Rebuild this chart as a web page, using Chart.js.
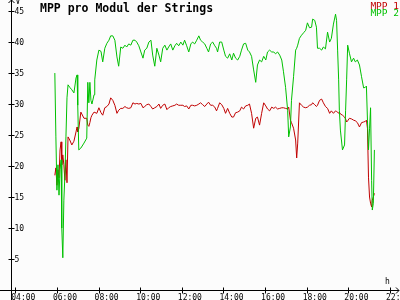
<!DOCTYPE html>
<html>
<head>
<meta charset="utf-8">
<script src="https://cdn.jsdelivr.net/npm/chart.js@4.4.1/dist/chart.umd.min.js"></script>
<style>
  html, body { margin: 0; padding: 0; background: #fcfcfc; }
  #wrap { width: 400px; height: 300px; }
</style>
</head>
<body>
<div id="wrap"><canvas id="myChart" width="400" height="300"></canvas></div>
<script>
// Sample times of the day
const times = [
  '05:54', '05:57', '06:00', '06:03', '06:06', '06:09', '06:12', '06:14', '06:17', '06:20',
  '06:23', '06:26', '06:29', '06:32', '06:37', '06:43', '06:49', '06:55', '06:58', '07:00',
  '07:03', '07:09', '07:18', '07:26', '07:29', '07:32', '07:35', '07:38', '07:41', '07:47',
  '07:49', '07:55', '08:01', '08:07', '08:12', '08:18', '08:24', '08:30', '08:35', '08:41',
  '08:47', '08:53', '08:58', '09:04', '09:10', '09:16', '09:21', '09:27', '09:33', '09:39',
  '09:45', '09:50', '09:56', '10:02', '10:08', '10:13', '10:19', '10:25', '10:31', '10:36',
  '10:42', '10:48', '10:54', '10:59', '11:05', '11:11', '11:17', '11:22', '11:28', '11:34',
  '11:40', '11:45', '11:51', '11:57', '12:03', '12:08', '12:14', '12:20', '12:26', '12:31',
  '12:37', '12:43', '12:49', '12:54', '13:00', '13:06', '13:12', '13:17', '13:23', '13:29',
  '13:35', '13:40', '13:43', '13:49', '13:55', '14:01', '14:06', '14:12', '14:18', '14:24',
  '14:29', '14:35', '14:41', '14:47', '14:52', '14:58', '15:04', '15:10', '15:15', '15:21',
  '15:27', '15:33', '15:38', '15:44', '15:50', '15:56', '16:02', '16:07', '16:13', '16:19',
  '16:25', '16:30', '16:36', '16:42', '16:48', '16:53', '16:59', '17:05', '17:08', '17:13',
  '17:16', '17:22', '17:28', '17:31', '17:34', '17:39', '17:45', '17:51', '17:57', '18:02',
  '18:08', '18:14', '18:17', '18:23', '18:28', '18:31', '18:37', '18:43', '18:48', '18:54',
  '19:00', '19:06', '19:11', '19:17', '19:23', '19:26', '19:29', '19:32', '19:34', '19:37',
  '19:43', '19:49', '19:52', '19:55', '19:58', '20:03', '20:09', '20:15', '20:20', '20:26',
  '20:32', '20:38', '20:44', '20:49', '20:52', '20:55', '20:58', '21:01', '21:04', '21:07',
  '21:09', '21:12', '21:15'
];

// MPP 1 (red), volts
const mpp1 = [
  18.5, 19.7, 16.9, 19.4, 18.1, 22.6, 23.9, 20.2, 21.8, 20.2,
  17.7, 21.0, 17.3, 24.7, 24.2, 23.4, 24.0, 25.5, 26.3, 25.5,
  26.0, 28.7, 27.7, 27.7, 26.6, 26.4, 27.0, 27.8, 28.2, 28.7,
  28.7, 28.5, 29.4, 28.6, 28.2, 29.4, 29.6, 30.0, 31.0, 30.6,
  29.8, 28.5, 29.0, 29.3, 29.3, 29.6, 29.4, 29.3, 29.4, 30.2,
  30.0, 30.1, 30.0, 30.1, 29.4, 29.6, 29.9, 30.0, 29.6, 29.2,
  29.4, 29.6, 30.0, 29.3, 29.8, 30.0, 29.1, 29.4, 29.6, 29.7,
  29.8, 30.0, 29.8, 29.8, 29.8, 29.6, 29.7, 29.2, 29.8, 29.8,
  29.7, 29.8, 30.0, 30.2, 29.9, 29.6, 30.0, 30.3, 29.8, 29.8,
  29.5, 28.9, 29.3, 30.2, 29.9, 29.3, 28.5, 29.3, 28.5, 27.9,
  27.9, 28.6, 28.7, 28.9, 29.5, 29.2, 29.7, 29.8, 30.0, 28.5,
  26.1, 27.7, 27.9, 26.6, 28.5, 30.2, 29.7, 29.2, 28.9, 29.5,
  29.3, 29.5, 29.2, 29.3, 29.4, 29.4, 29.3, 29.2, 29.5, 27.4,
  27.0, 26.1, 24.2, 21.3, 23.7, 30.2, 29.8, 29.5, 29.4, 29.5,
  29.8, 29.9, 30.2, 29.9, 29.6, 29.8, 30.6, 30.8, 30.2, 29.6,
  29.3, 28.5, 28.9, 28.5, 28.9, 28.8, 28.7, 28.5, 28.7, 28.4,
  28.2, 27.9, 27.6, 27.1, 27.3, 27.7, 27.6, 27.4, 27.3, 27.0,
  26.3, 27.0, 27.1, 27.2, 27.4, 26.1, 18.2, 15.0, 14.0, 13.4,
  14.5, 15.0, 15.6
];

// MPP 2 (green), volts
const mpp2 = [
  35.0, 24.7, 16.1, 20.2, 15.3, 19.4, 21.0, 10.0, 5.2, 14.5,
  18.5, 24.7, 31.0, 33.1, 32.7, 32.3, 31.8, 34.2, 34.7, 29.8,
  22.6, 22.9, 23.7, 24.5, 33.5, 30.2, 33.5, 30.6, 30.0, 31.5,
  33.9, 37.1, 38.7, 38.5, 36.8, 39.0, 39.8, 40.3, 41.0, 41.0,
  40.3, 37.6, 36.1, 39.2, 39.0, 39.5, 39.2, 39.7, 39.5, 40.3,
  40.3, 40.0, 39.4, 38.4, 37.4, 38.7, 39.0, 40.0, 40.3, 37.9,
  36.1, 39.0, 37.9, 36.8, 39.0, 39.5, 38.7, 39.2, 39.7, 38.7,
  39.4, 39.8, 39.4, 40.0, 39.5, 40.3, 39.4, 38.4, 39.7, 40.0,
  39.7, 40.3, 41.0, 40.3, 40.0, 39.7, 39.0, 38.4, 39.7, 40.0,
  39.4, 39.0, 38.4, 40.0, 40.0, 38.7, 37.7, 37.4, 38.1, 37.1,
  38.2, 37.4, 37.1, 37.7, 38.7, 39.7, 39.8, 38.7, 38.4, 37.7,
  35.5, 33.5, 36.3, 37.1, 36.8, 37.7, 37.1, 38.4, 38.7, 38.4,
  38.4, 38.1, 38.4, 37.9, 37.1, 35.2, 32.7, 29.0, 24.7, 26.3,
  30.6, 34.4, 38.7, 39.0, 39.5, 40.6, 41.1, 41.5, 41.9, 43.1,
  42.3, 42.4, 43.7, 43.5, 42.4, 39.0, 39.0, 38.7, 39.2, 38.9,
  41.6, 40.0, 40.6, 42.9, 44.5, 43.5, 38.7, 33.9, 29.0, 25.8,
  22.6, 23.4, 29.0, 33.9, 39.5, 38.2, 36.8, 37.4, 36.8, 37.1,
  36.3, 34.4, 32.6, 32.7, 32.9, 27.4, 22.6, 26.0, 29.4, 17.7,
  12.9, 14.0, 22.6
];

const xTicks = [4, 6, 8, 10, 12, 14, 16, 18, 20, 22];
const xTickLabels = ['04:00', '06:00', '08:00', '10:00', '12:00', '14:00', '16:00', '18:00', '20:00', '22:00'];
const yTicks = [5, 10, 15, 20, 25, 30, 35, 40, 45];

const toHours = (t) => {
  const [h, m] = t.split(':').map(Number);
  return h + m / 60;
};

const toPoints = (values) => values.map((v, i) => ({ x: toHours(times[i]), y: v }));

const MONO = "'DejaVu Sans Mono', monospace";

// Draw axes with arrows, crossing ticks, labels, title and legend by hand.
const decorations = {
  id: 'decorations',
  afterDraw(chart) {
    const c = chart.ctx;
    const xs = chart.scales.x;
    const ys = chart.scales.y;
    const ax = Math.round(chart.chartArea.left) + 0.5;
    const ay = Math.round(ys.getPixelForValue(0)) + 0.5;
    c.save();
    c.strokeStyle = '#000';
    c.fillStyle = '#000';
    c.lineWidth = 1;

    c.beginPath();
    c.moveTo(0, ay); c.lineTo(399, ay);
    c.moveTo(396, ay - 3); c.lineTo(399, ay); c.lineTo(396, ay + 3);
    c.moveTo(ax, 300); c.lineTo(ax, 0);
    c.moveTo(ax - 3, 3); c.lineTo(ax, 0); c.lineTo(ax + 3, 3);

    for (const t of yTicks) {
      const py = Math.round(ys.getPixelForValue(t)) + 0.5;
      c.moveTo(ax - 3, py); c.lineTo(ax + 3, py);
    }
    for (const t of xTicks) {
      const px = Math.round(xs.getPixelForValue(t)) + 0.5;
      c.moveTo(px, ay - 3); c.lineTo(px, ay + 3);
    }
    c.stroke();

    c.font = '8px ' + MONO;
    c.textAlign = 'left';
    c.textBaseline = 'middle';
    for (const t of yTicks) {
      c.fillText(String(t), ax + 3, ys.getPixelForValue(t) + 0.5);
    }
    c.textBaseline = 'top';
    xTicks.forEach((t, i) => {
      c.fillText(xTickLabels[i], xs.getPixelForValue(t) - 4, ay + 3);
    });
    c.textBaseline = 'alphabetic';
    c.fillText('V', ax + 4, 4);
    c.fillText('h', 385, 284);

    c.font = 'bold 11.5px ' + MONO;
    c.fillText('MPP pro Modul der Strings', 40, 12);

    c.font = '9.5px ' + MONO;
    c.textAlign = 'right';
    c.fillStyle = '#c00000';
    c.fillText('MPP 1', 399, 9);
    c.fillStyle = '#00c000';
    c.fillText('MPP 2', 399, 16);
    c.restore();
  }
};

const ctx = document.getElementById('myChart');

const myChart = new Chart(ctx, {
  type: 'line',
  data: {
    datasets: [
      {
        label: 'MPP 1',
        data: toPoints(mpp1),
        borderColor: '#c00000',
        borderWidth: 1,
        pointRadius: 0,
        order: 1,
      },
      {
        label: 'MPP 2',
        data: toPoints(mpp2),
        borderColor: '#00c000',
        borderWidth: 1,
        pointRadius: 0,
        order: 0,
      },
    ],
  },
  options: {
    responsive: false,
    animation: false,
    layout: {
      padding: { left: 11, right: 2, top: 3, bottom: 10 },
    },
    plugins: {
      legend: { display: false },
      tooltip: { enabled: false },
    },
    scales: {
      x: { type: 'linear', min: 3.794, max: 22.384, display: false },
      y: { type: 'linear', min: 0, max: 46.3, display: false },
    },
  },
  plugins: [decorations],
});
</script>
</body>
</html>
